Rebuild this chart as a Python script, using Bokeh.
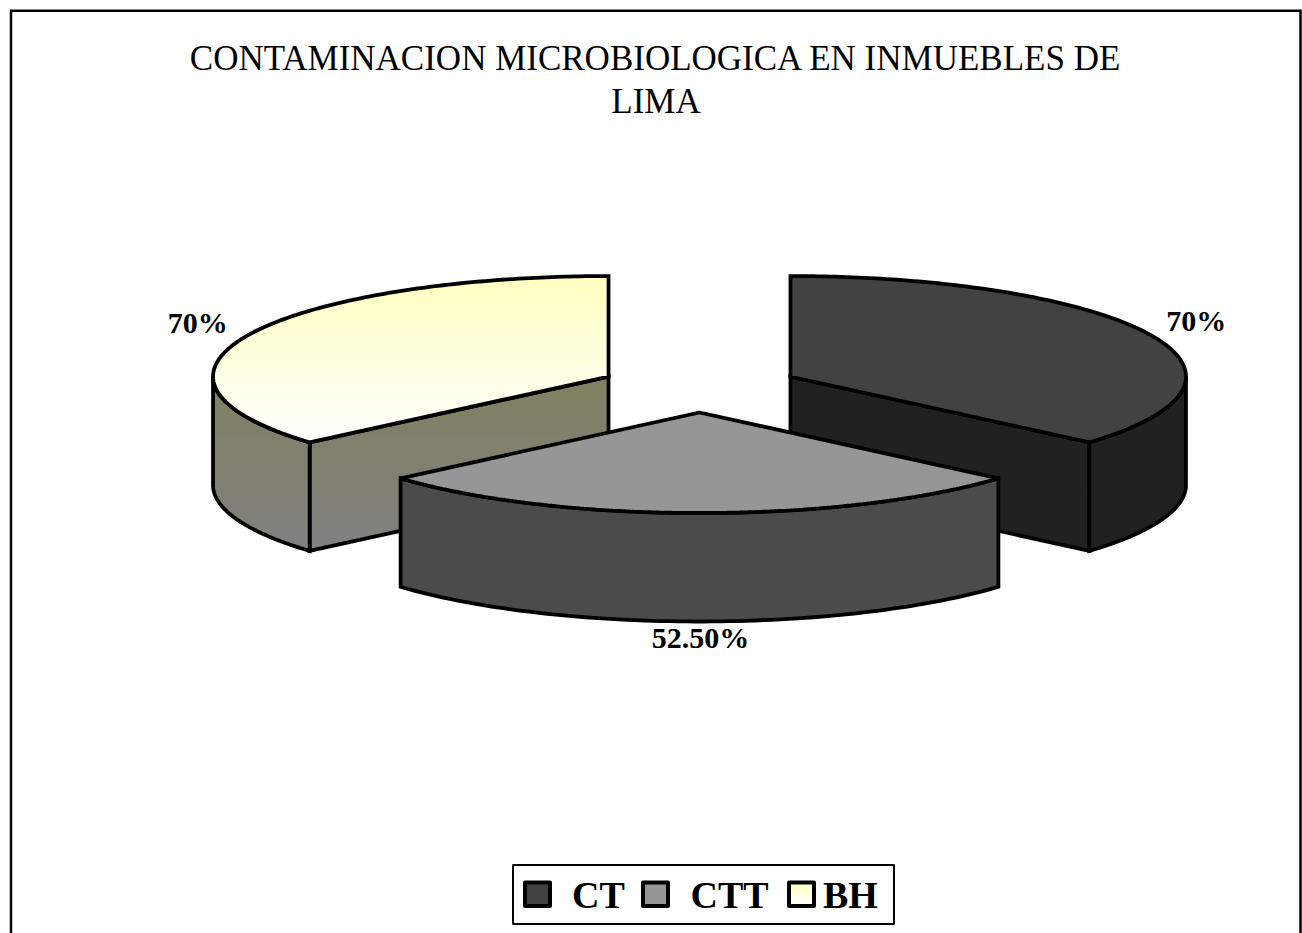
import numpy as np
from bokeh.embed import file_html
from bokeh.models import Range1d
from bokeh.plotting import figure
from bokeh.resources import INLINE
from bokeh.core.properties import value

# --- chart data ---
title_lines = ["CONTAMINACION MICROBIOLOGICA EN INMUEBLES DE", "LIMA"]
categories = ["CT", "CTT", "BH"]
values = [70, 52.5, 70]
value_labels = ["70%", "52.50%", "70%"]

# --- styles ---
top_colors = [("#424242", "#424242"), ("#969696", "#969696"), ("#FFFFC0", "#FFFFFF")]
side_colors = [("#212121", "#212121"), ("#4B4B4B", "#4B4B4B"), ("#808060", "#808080")]
top_joins = ["miter", "bevel", "miter"]
FONT = "Liberation Serif"
STROKE = 3.8

# --- layout (screen pixels) ---
W, H = 1302, 933
CX, CY = 699.0, 386.6      # pie centre before the slices are pulled out
A, B = 395.5, 100.5        # ellipse radii of the top face
DEPTH = 108.5
EXPLODE = 100.0

p = figure(width=W, height=H, output_backend="svg", toolbar_location=None,
           x_range=Range1d(0, W), y_range=Range1d(H, 0),
           x_axis_type=None, y_axis_type=None, min_border=0,
           outline_line_color=None, background_fill_color="white",
           border_fill_color="white")
p.grid.visible = False


def hex_rgb(c):
    return np.array([int(c[i:i + 2], 16) for i in (1, 3, 5)], dtype=float)


def clip_band(xs, ys, y0, y1):
    pts = list(zip(xs, ys))
    for bound, keep_below in ((y0, True), (y1, False)):
        out = []
        for i, cur in enumerate(pts):
            prev = pts[i - 1]
            cur_in = cur[1] >= bound if keep_below else cur[1] <= bound
            prev_in = prev[1] >= bound if keep_below else prev[1] <= bound
            if cur_in != prev_in:
                f = (bound - prev[1]) / (cur[1] - prev[1])
                out.append((prev[0] + f * (cur[0] - prev[0]), bound))
            if cur_in:
                out.append(cur)
        pts = out
        if not pts:
            return [], []
    return [q[0] for q in pts], [q[1] for q in pts]


def face(xs, ys, colors, ymin=None, ymax=None, join="miter", width=STROKE):
    """Fill a polygon with a vertical gradient, then stroke its outline."""
    xs, ys = list(xs), list(ys)
    if colors[0] == colors[1]:
        p.patch(xs, ys, fill_color=colors[0], line_color=None)
    else:
        ymin = min(ys) if ymin is None else ymin
        ymax = max(ys) if ymax is None else ymax
        c0, c1 = hex_rgb(colors[0]), hex_rgb(colors[1])
        edges = np.arange(ymin, ymax + 2, 2.0)
        bx, by, bc = [], [], []
        for e in edges:
            cx_, cy_ = clip_band(xs, ys, e, e + 2.6)
            if cx_:
                f = min(max((e + 1 - ymin) / (ymax - ymin), 0), 1)
                r, g, b_ = (c0 + f * (c1 - c0)).round().astype(int)
                bx.append(cx_)
                by.append(cy_)
                bc.append(f"#{r:02X}{g:02X}{b_:02X}")
        p.patches(bx, by, fill_color=bc, line_color=None)
    # close the outline with a repeated first segment so the joint is a real join
    p.line(xs + xs[:2], ys + ys[:2], line_color="black", line_width=width,
           line_join=join)


def ell(cx, cy, t):
    return cx + A * np.sin(t), cy - B * np.cos(t)


total = sum(values)
bounds = np.radians(np.concatenate([[0], np.cumsum(values)]) / total * 360)
mids = (bounds[:-1] + bounds[1:]) / 2

# back slices first (CT and BH), the front slice (CTT) last
for i in (2, 0, 1):
    t0, t1 = bounds[i], bounds[i + 1]
    cx = CX + EXPLODE * np.sin(mids[i])
    cy = CY - EXPLODE * np.cos(mids[i]) * B / A
    side_min, side_max = cy, cy + B * 0.655 + DEPTH
    # radial walls that face the viewer
    for t in (t0, t1):
        ex, ey = ell(cx, cy, t)
        if (i == 0 and t == t1) or (i == 2 and t == t0):
            face([cx, ex, ex, cx], [cy, ey, ey + DEPTH, cy + DEPTH],
                 side_colors[i], side_min, side_max)
    # outer wall: the part of the rim in the front half
    lo, hi = max(t0, np.pi / 2), min(t1, 3 * np.pi / 2)
    ts = np.linspace(lo, hi, 80)
    rx, ry = ell(cx, cy, ts)
    face(np.r_[rx, rx[::-1]], np.r_[ry, ry[::-1] + DEPTH],
         side_colors[i], side_min, side_max)
    # top face
    ts = np.linspace(t0, t1, 160)
    rx, ry = ell(cx, cy, ts)
    face(np.r_[cx, rx], np.r_[cy, ry], top_colors[i], join=top_joins[i])

# data labels
lab_nudge_x = [0, 1, -5]
lab_nudge_y = [-10, -10, -8]
p.text([699 + 546 * np.sin(m) + dx for m, dx in zip(mids, lab_nudge_x)],
       [423 - 224 * np.cos(m) + dy for m, dy in zip(mids, lab_nudge_y)],
       text=value_labels, text_font=value(FONT), text_font_style="bold",
       text_font_size="30px", text_color="black", text_align="center",
       text_baseline="alphabetic")

# chart title
p.text([655.5, 655.5], [58, 101], text=title_lines, text_font=value(FONT),
       text_font_size="35px", text_color="black", text_align="center",
       text_baseline="alphabetic")

# chart border
p.line([10.5, 10.5, 1300, 1300], [940, 10.3, 10.3, 940], line_color="black",
       line_width=2.5, line_join="miter")

# legend
p.quad(left=[512.5], right=[893.5], top=[864.5], bottom=[923.5], fill_color="white",
       line_color="black", line_width=2)
sw_left = [524.5, 642.5, 788.5]
sw_text = [571.5, 690, 822.5]
for i, cat in enumerate(categories):
    x0 = sw_left[i]
    face([x0, x0 + 25, x0 + 25, x0], [882, 882, 905.5, 905.5], top_colors[i],
         join="round", width=4)
    p.text([sw_text[i]], [894], text=[cat], text_font=value(FONT),
           text_font_style="bold", text_font_size="38px", text_color="black",
           text_align="left", text_baseline="alphabetic")

open("out.html", "w").write(file_html(p, INLINE))
